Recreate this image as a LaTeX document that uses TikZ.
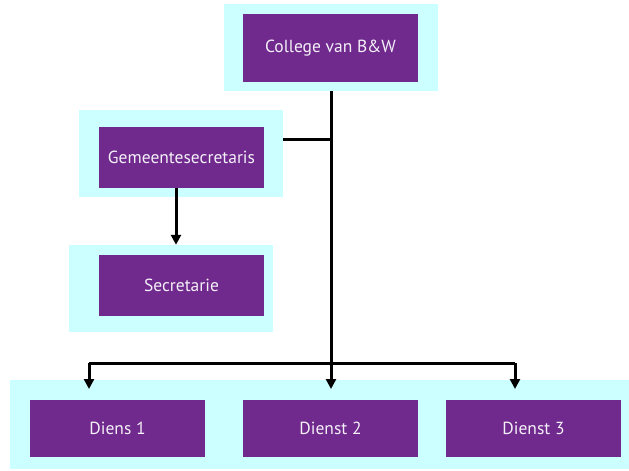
\documentclass[tikz,border=0pt]{standalone}
\usepackage{fontspec}
\setmainfont{PT Sans}
\usetikzlibrary{arrows.meta}
\definecolor{panel}{HTML}{CCFFFF}
\definecolor{unit}{HTML}{70298C}
\definecolor{unittext}{HTML}{F4F0F8}
\tikzset{
  panelbox/.style={fill=panel, draw=none, inner sep=0pt},
  unitbox/.style={fill=unit, draw=none, text=unittext, inner sep=0pt,
    font=\fontsize{17.5}{20}\selectfont},
  link/.style={line width=3pt, draw=black},
  tiplink/.style={link, -{Triangle[width=10pt,length=10pt]}}
}
\begin{document}
\begin{tikzpicture}[x=1pt, y=-1pt]
\useasboundingbox (0,0) rectangle (629,471);

% light panels behind the units
\node[panelbox, minimum width=214pt, minimum height=87pt] (cwbg)  at (331,47.5) {};
\node[panelbox, minimum width=204pt, minimum height=87pt] (gsbg)  at (181,153.5) {};
\node[panelbox, minimum width=204pt, minimum height=87pt] (secbg) at (171,288.5) {};
\node[panelbox, minimum width=619pt, minimum height=89pt] (dbg)   at (319.5,424.5) {};

% units
\node[unitbox, minimum width=175pt, minimum height=68pt] (cw)  at (330.5,48) {College van B\&W};
\node[unitbox, minimum width=165pt, minimum height=61pt] (gs)  at (181.5,157.5) {Gemeentesecretaris};
\node[unitbox, minimum width=165pt, minimum height=61pt] (sec) at (181.5,285.5) {Secretarie};
\node[unitbox, minimum width=175pt, minimum height=57pt] (d1) at (117.5,428.5) {Diens 1};
\node[unitbox, minimum width=175pt, minimum height=57pt] (d2) at (330.5,428.5) {Dienst 2};
\node[unitbox, minimum width=175pt, minimum height=57pt] (d3) at (533.5,428.5) {Dienst 3};

% connector points
\coordinate (trunk) at (331,139);
\coordinate (bar)   at (331,363);
\coordinate (barl)  at (89,363);
\coordinate (barr)  at (515,363);
\coordinate (t1) at (89,389);
\coordinate (t2) at (331,389);
\coordinate (t3) at (515,389);

% connectors
\draw[tiplink] (cwbg.south -| trunk) -- (t2);
\draw[link] (gsbg.east |- trunk) -- (trunk);
\draw[link] (barl) -- (barr);
\draw[tiplink] (barl) -- (t1);
\draw[tiplink] (barr) -- (t3);
\draw[tiplink] ([xshift=-5.5pt]gs.south) -- ([xshift=5pt]secbg.north);
\end{tikzpicture}
\end{document}
